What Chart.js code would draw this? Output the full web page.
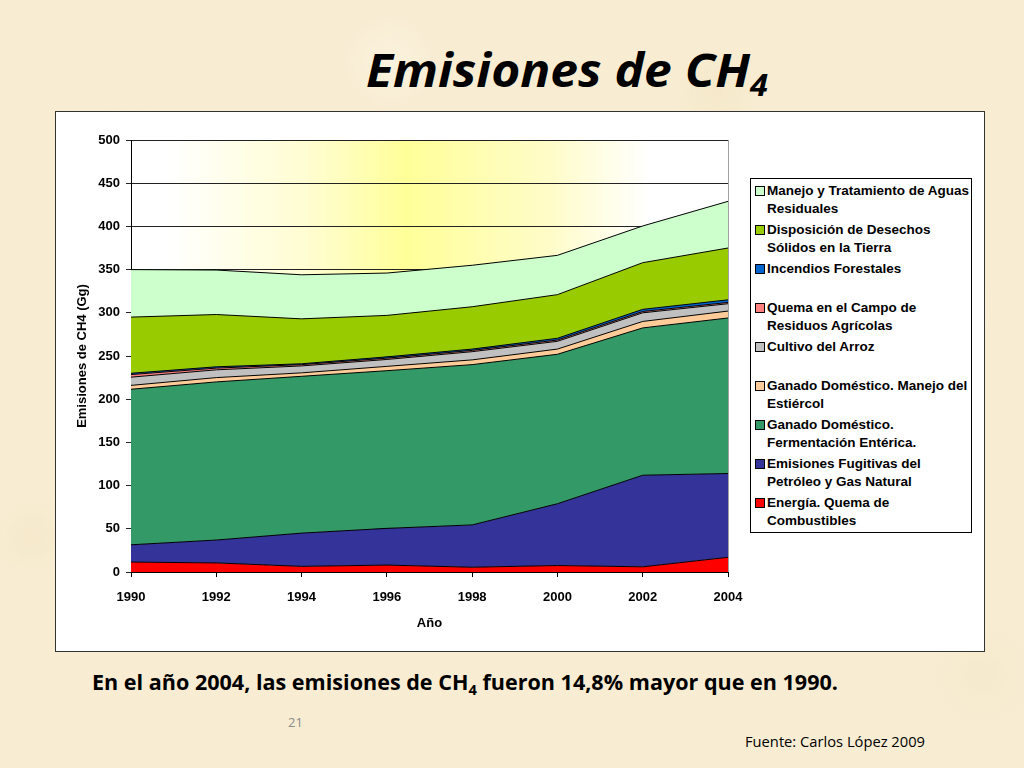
<!DOCTYPE html>
<html>
<head>
<meta charset="utf-8">
<script src="https://cdn.jsdelivr.net/npm/chart.js@4.4.0/dist/chart.umd.min.js"></script>
<style>
  html, body { margin: 0; padding: 0; }
  body {
    width: 1024px; height: 768px; overflow: hidden; position: relative;
    background-color: #f8edd3;
    background-image:
      radial-gradient(circle at 12% 20%, rgba(242,226,192,0.45) 0, rgba(242,226,192,0) 5%),
      radial-gradient(circle at 38% 8%, rgba(255,248,232,0.5) 0, rgba(255,248,232,0) 5%),
      radial-gradient(circle at 70% 12%, rgba(242,226,190,0.4) 0, rgba(242,226,190,0) 5%),
      radial-gradient(circle at 92% 40%, rgba(255,248,232,0.5) 0, rgba(255,248,232,0) 5%),
      radial-gradient(circle at 3% 70%, rgba(242,226,192,0.4) 0, rgba(242,226,192,0) 4%),
      radial-gradient(circle at 96% 88%, rgba(242,228,196,0.4) 0, rgba(242,228,196,0) 5%);
    font-family: "Open Sans", sans-serif;
  }
  #title {
    left: 366px; top: 46px;
    font: italic bold 46px/46px "Open Sans", sans-serif; color: #000;
  }
  #title sub { font-size: 30px; vertical-align: -9px; line-height: 0; }
  #box {
    position: absolute; left: 55px; top: 111px; width: 928px; height: 539px;
    background: #fff; border: 1px solid #333;
  }
  #chart { position: absolute; left: 0; top: 0; }
  #legend {
    position: absolute; left: 694px; top: 66px; width: 220px; height: 353px;
    border: 1px solid #000; background: #fff;
    font: bold 13.5px/17.5px "Liberation Sans", Arial, sans-serif; color: #000;
  }
  .item { position: absolute; left: 0; height: 35px; }
  .mark {
    position: absolute; left: 4px; top: 4px; width: 8px; height: 8px;
    border: 1px solid #000;
  }
  .txt { position: absolute; left: 16px; top: 0; white-space: pre; }
  .fit { position: absolute; white-space: nowrap; transform-origin: 0 0; }
  #caption { left: 92px; top: 670px; font: bold 22px/22px "Open Sans", sans-serif; }
  #caption sub { font-size: 15px; vertical-align: -5px; line-height: 0; }
  #page { position: absolute; left: 288px; top: 716px; font: 13px/13px "Open Sans", sans-serif; color: #8c8c8c; }
  #source { left: 745px; top: 734px; font: 15px/15px "Open Sans", sans-serif; }
</style>
</head>
<body>
<div id="title" class="fit" data-w="402">Emisiones de CH<sub>4</sub></div>
<div id="box">
  <canvas id="chart" width="928" height="539"></canvas>
  <div id="legend"></div>
</div>
<div id="caption" class="fit" data-w="746">En el año 2004, las emisiones de CH<sub>4</sub> fueron 14,8% mayor que en 1990.</div>
<div id="page">21</div>
<div id="source" class="fit" data-w="180">Fuente: Carlos López 2009</div>

<script>
// years and series (Gg of CH4), bottom of the stack first
const years = ['1990', '1992', '1994', '1996', '1998', '2000', '2002', '2004'];
const energia    = [11.5, 10.5, 6.5, 8, 5.5, 7.5, 6, 17];
const fugitivas  = [20, 26.5, 38.5, 42.5, 49, 71.5, 106, 97];
const enterica   = [180, 183, 181.5, 182.5, 185.5, 173, 170.5, 180];
const estiercol  = [4.5, 5, 4, 5, 5.5, 6, 7.5, 8];
const arroz      = [9.5, 9, 8, 8, 9.5, 9, 10, 8.5];
const quemaCampo = [3, 2, 1.5, 1.5, 1.5, 1.5, 1.5, 1.5];
const incendios  = [1.5, 1.5, 1, 1.5, 1.5, 2, 2.5, 3];
const desechos   = [65, 60.5, 52, 48, 49, 50.5, 54, 60];
const aguas      = [55, 51.5, 51, 49, 48, 45.5, 42.5, 54];

const seriesNames = [
    'Energía. Quema de\nCombustibles',
    'Emisiones Fugitivas del\nPetróleo y Gas Natural',
    'Ganado Doméstico.\nFermentación Entérica.',
    'Ganado Doméstico. Manejo del\nEstiércol',
    'Cultivo del Arroz',
    'Quema en el Campo de\nResiduos Agrícolas',
    'Incendios Forestales',
    'Disposición de Desechos\nSólidos en la Tierra',
    'Manejo y Tratamiento de Aguas\nResiduales'
];
const seriesValues = [energia, fugitivas, enterica, estiercol, arroz, quemaCampo, incendios, desechos, aguas];
const seriesColors = ['#ff0000', '#333399', '#339966', '#ffcc99', '#c0c0c0', '#ff8080', '#0066cc', '#99cc00', '#ccffcc'];

const yMax = 500;
const yStep = 50;

const axisFont = { family: '"Liberation Sans", Arial, sans-serif', size: 13, weight: 'bold' };

// yellow glow behind the plot + grey right border
const plotBackground = {
    id: 'plotBackground',
    beforeDraw(chart) {
        const { ctx, chartArea: a } = chart;
        const g = ctx.createLinearGradient(a.left, 0, a.right, 0);
        g.addColorStop(0, '#ffffff');
        g.addColorStop(0.06, '#ffffff');
        g.addColorStop(0.3, '#fffdd0');
        g.addColorStop(0.46, '#ffff99');
        g.addColorStop(0.7, '#fffcc8');
        g.addColorStop(0.87, '#ffffff');
        g.addColorStop(1, '#ffffff');
        ctx.save();
        ctx.fillStyle = g;
        ctx.fillRect(a.left, a.top, a.right - a.left, a.bottom - a.top);
        ctx.restore();
    },
    afterDatasetsDraw(chart) {
        const { ctx, chartArea: a } = chart;
        ctx.save();
        ctx.strokeStyle = '#a0a0a0';
        ctx.lineWidth = 1;
        ctx.beginPath();
        ctx.moveTo(a.right + 0.5, a.top);
        ctx.lineTo(a.right + 0.5, a.bottom);
        ctx.stroke();
        ctx.restore();
    }
};

const datasets = seriesValues.map((vals, i) => ({
    label: seriesNames[i].replace('\n', ' '),
    data: vals,
    backgroundColor: seriesColors[i],
    borderColor: '#000',
    borderWidth: 1,
    pointRadius: 0,
    tension: 0,
    fill: i === 0 ? 'origin' : '-1'
}));

new Chart(document.getElementById('chart'), {
    type: 'line',
    data: { labels: years, datasets: datasets },
    options: {
        responsive: false,
        animation: false,
        layout: { padding: { left: 15, top: 28, right: 256, bottom: 0 } },
        plugins: { legend: { display: false }, tooltip: { enabled: false } },
        scales: {
            x: {
                grid: { drawOnChartArea: false, drawTicks: true, tickLength: 5, color: '#000' },
                border: { color: '#000' },
                ticks: { color: '#000', font: axisFont, padding: 13, maxRotation: 0 },
                title: { display: true, text: 'Año', color: '#000', font: axisFont, padding: { top: 4, bottom: 20 } },
                afterFit(scale) { scale.height = 79; }
            },
            y: {
                stacked: true,
                min: 0,
                max: yMax,
                grid: { color: '#222', tickLength: 5 },
                border: { color: '#000' },
                ticks: { stepSize: yStep, color: '#000', font: axisFont, padding: 6 },
                title: { display: true, text: 'Emisiones de CH4 (Gg)', color: '#000', font: axisFont, padding: { top: 4, bottom: 4 } },
                afterFit(scale) { scale.width = 60; }
            }
        }
    },
    plugins: [plotBackground]
});

// legend, top item = top of the stack
const legend = document.getElementById('legend');
for (let k = 0; k < seriesNames.length; k++) {
    const i = seriesNames.length - 1 - k;
    const item = document.createElement('div');
    item.className = 'item';
    item.style.top = (3 + k * 39) + 'px';
    const mark = document.createElement('div');
    mark.className = 'mark';
    mark.style.background = seriesColors[i];
    const txt = document.createElement('div');
    txt.className = 'txt';
    txt.textContent = seriesNames[i];
    item.appendChild(mark);
    item.appendChild(txt);
    legend.appendChild(item);
}

// squeeze/stretch slide texts to the reference widths
document.querySelectorAll('.fit').forEach(el => {
    const w = el.getBoundingClientRect().width;
    const target = parseFloat(el.dataset.w);
    if (w > 0) el.style.transform = 'scaleX(' + (target / w) + ')';
});
</script>
</body>
</html>
